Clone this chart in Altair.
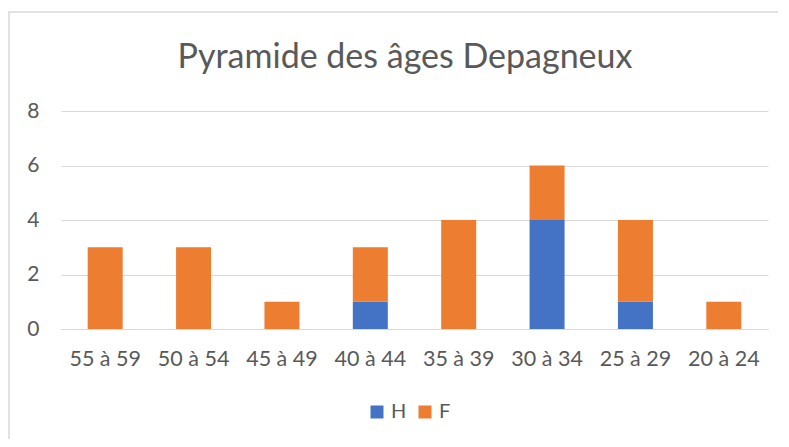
import altair as alt
import pandas as pd

categories = ["55 à 59", "50 à 54", "45 à 49", "40 à 44", "35 à 39", "30 à 34", "25 à 29", "20 à 24"]
h_values = [0, 0, 0, 1, 0, 4, 1, 0]
f_values = [3, 3, 1, 2, 4, 2, 3, 1]
series = ["H", "F"]
colors = ["#4472C4", "#ED7D31"]
title_text = ["Pyramide des âges Depagneux"]

rows = []
for c, h, f in zip(categories, h_values, f_values):
    rows.append({"cat": c, "serie": "H", "val": h, "ord": 0})
    rows.append({"cat": c, "serie": "F", "val": f, "ord": 1})
df = pd.DataFrame(rows)

txt = "#595959"
grid = "#D9D9D9"
font = "Lato"

bars = alt.Chart(df).mark_bar(size=35).encode(
    x=alt.X("cat:N", sort=categories, title=None,
            scale=alt.Scale(paddingInner=0.6, paddingOuter=0.3),
            axis=alt.Axis(labelAngle=0, labelFontSize=21.5, labelColor=txt, labelFont=font,
                          ticks=False, domainColor=grid, labelPadding=19, grid=False)),
    y=alt.Y("sum(val):Q", title=None, stack="zero",
            scale=alt.Scale(domain=[0, 8]),
            axis=alt.Axis(values=[0, 2, 4, 6, 8], labelFontSize=21, labelColor=txt, labelFont=font,
                          ticks=False, domain=False, gridColor=grid, labelPadding=22)),
    color=alt.Color("serie:N", sort=series, scale=alt.Scale(domain=series, range=colors),
                    legend=alt.Legend(title=None, orient="none", direction="horizontal",
                                      legendX=306, legendY=291, symbolType="square",
                                      symbolSize=169, symbolStrokeWidth=0, labelFontSize=20,
                                      labelColor=txt, labelFont=font, columnPadding=8,
                                      labelOffset=4)),
    order=alt.Order("ord:Q"),
)

frame = alt.Chart(pd.DataFrame({"a": [0]})).mark_rect(
    fill=None, stroke=grid, strokeWidth=1.5, clip=False
).encode(
    x=alt.value(-52), x2=alt.value(760), y=alt.value(-99), y2=alt.value(440)
)

title = alt.Chart(pd.DataFrame({"t": title_text})).mark_text(
    font=font, fontSize=34, color=txt, align="center", baseline="alphabetic"
).encode(
    x=alt.value(344), y=alt.value(-43), text="t:N"
)

chart = alt.layer(frame, bars, title).properties(
    width=707, height=218,
    autosize=alt.AutoSizeParams(type="none"),
    padding={"left": 53, "top": 103, "right": 10, "bottom": 110},
).configure_view(stroke=None)

chart.save("out.html", embed_options={"renderer": "svg", "actions": False})
